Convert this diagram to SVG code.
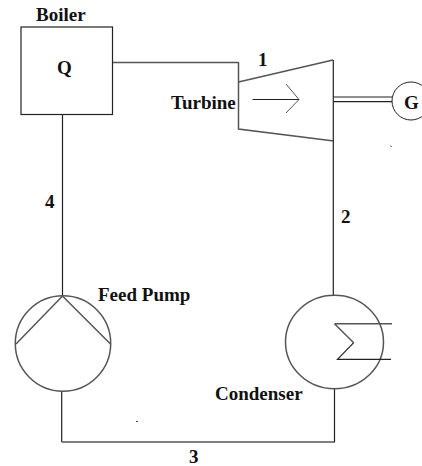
<svg xmlns="http://www.w3.org/2000/svg" width="422" height="466" viewBox="0 0 422 466">
<style>
.l{fill:none;stroke:#222;stroke-width:1.2}
.g{fill:none;stroke:#555;stroke-width:1.5}
text{font-family:"Liberation Serif","Times New Roman",serif;font-weight:bold;font-size:19px;fill:#111}
</style>
<rect width="422" height="466" fill="#fff"/>
<g id="connectors">
<path class="g" d="M113 62.500H238.500"/>
<path class="l" d="M62.500 114.500V296"/>
<path class="l" d="M333.300 141V295"/>
<path class="l" d="M61.700 391V442"/>
<path class="g" d="M61.700 442H335"/>
<path class="l" d="M334.500 389V442"/>
<path class="l" d="M333.500 97H392M333.500 101.700H392"/>
</g>
<g id="boiler">
<rect class="l" x="21" y="27" width="91.500" height="87.500"/>
<text x="36" y="20.500">Boiler</text>
<text x="57" y="74">Q</text>
</g>
<g id="turbine">
<path class="g" d="M238.500 62V129L334 141"/>
<path class="g" d="M238.500 82L333 60"/>
<path class="l" d="M333.300 60V141"/>
<path class="l" d="M252.500 99.500H299"/>
<path class="g" d="M286 84L299 99.500L286 113" style="stroke-width:1"/>
<text x="171" y="109">Turbine</text>
</g>
<g id="generator">
<circle class="l" cx="411" cy="101" r="19" style="stroke-width:1"/>
<text x="404" y="109">G</text>
</g>
<g id="pump">
<circle class="g" cx="63" cy="343.500" r="47.700"/>
<path class="g" d="M16 344L62.500 296L110.500 344"/>
<text x="98" y="301">Feed Pump</text>
</g>
<g id="condenser">
<ellipse class="g" cx="334.500" cy="342" rx="49" ry="46.700"/>
<path class="g" d="M334.500 323.800H392M334.500 323.800L353.700 342.700"/>
<path class="l" d="M353.700 342.700L337.500 359.300H391"/>
<text x="215" y="400">Condenser</text>
</g>
<g id="labels">
<text x="258" y="66">1</text>
<text x="341" y="223">2</text>
<text x="189" y="463">3</text>
<text x="45" y="208">4</text>
</g>
<path d="M136 421.500H138M390.500 145.500L391.500 147" fill="none" stroke="#444" stroke-width="1"/>
</svg>
